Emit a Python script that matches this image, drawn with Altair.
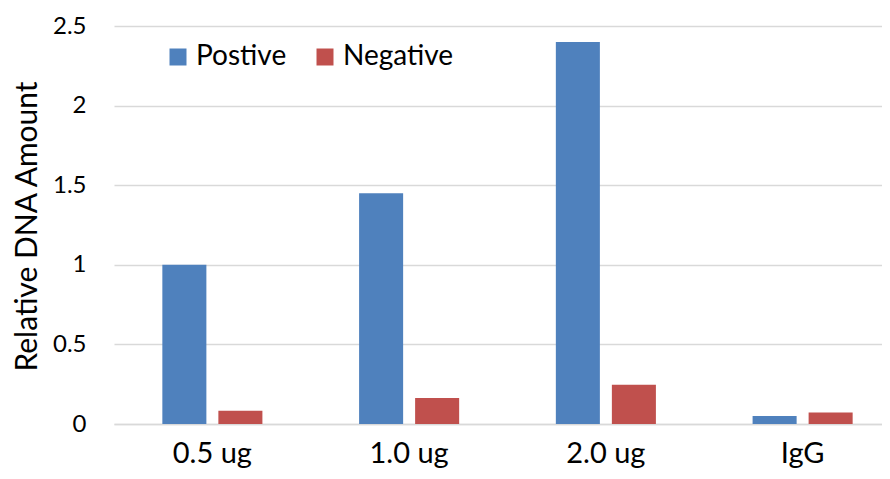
import altair as alt
import pandas as pd

categories = ["0.5 ug", "1.0 ug", "2.0 ug", "IgG"]
series_names = ["Postive", "Negative"]
positive = [1.0, 1.45, 2.4, 0.05]
negative = [0.083, 0.163, 0.247, 0.073]
y_ticks = [0, 0.5, 1, 1.5, 2, 2.5]
colors = ["#4F81BD", "#C0504D"]

rows = []
for c, p, n in zip(categories, positive, negative):
    rows.append({"cat": c, "series": series_names[0], "value": p})
    rows.append({"cat": c, "series": series_names[1], "value": n})
df = pd.DataFrame(rows)

FONT = "Lato"

chart = alt.Chart(df).mark_bar().encode(
    x=alt.X("cat:N", sort=categories, title=None,
            scale=alt.Scale(paddingInner=0, paddingOuter=0),
            axis=alt.Axis(labelAngle=0, labelFontSize=29, labelFont=FONT, labelColor="#000000",
                          ticks=False, tickSize=0, labelPadding=15, domainColor="#D9D9D9",
                          domainWidth=1.5, grid=False)),
    xOffset=alt.XOffset("series:N", sort=series_names,
                        scale=alt.Scale(paddingInner=0.214, paddingOuter=0.863)),
    y=alt.Y("value:Q", title="Relative DNA Amount",
            scale=alt.Scale(domain=[0, 2.5], nice=False),
            axis=alt.Axis(values=y_ticks, format="~g", labelFontSize=24, labelFont=FONT,
                          labelColor="#000000", ticks=False, tickSize=0, labelPadding=28,
                          domain=False, gridColor="#D9D9D9", gridWidth=1.3,
                          titleFont=FONT, titleFontSize=30, titleFontWeight="normal",
                          titleColor="#000000", titleX=-87, titleY=200,
                          titleAngle=270, titleBaseline="middle", titleAlign="center")),
    color=alt.Color("series:N", sort=series_names,
                    scale=alt.Scale(domain=series_names, range=colors),
                    legend=alt.Legend(title=None, orient="none", legendX=50, legendY=17,
                                      direction="horizontal", symbolType="square",
                                      symbolSize=289, symbolStrokeWidth=0, labelFontSize=28,
                                      labelFont=FONT, labelColor="#000000", labelOffset=4,
                                      columnPadding=24, padding=0)),
).properties(
    width=787, height=398,
    autosize=alt.AutoSizeParams(type="none"),
    padding={"left": 106, "top": 18, "right": -19, "bottom": 44},
).configure_view(stroke=None)

chart.save("out.html", embed_options={"renderer": "svg", "actions": False})
